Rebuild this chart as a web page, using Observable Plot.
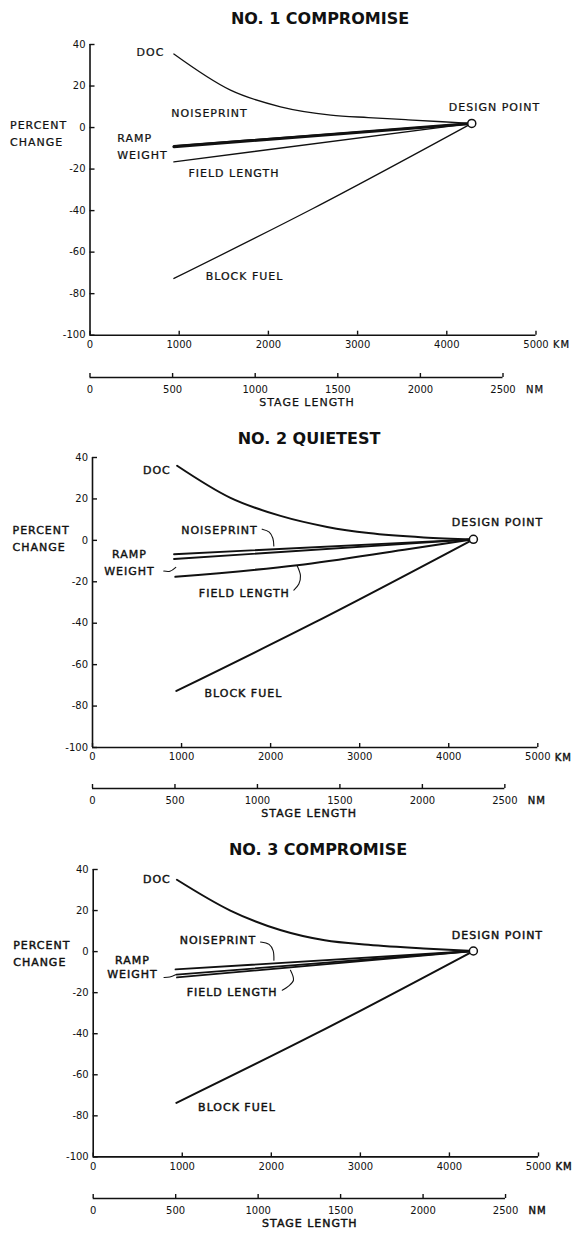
<!DOCTYPE html>
<html>
<head>
<meta charset="utf-8">
<script src="https://cdn.jsdelivr.net/npm/d3@7"></script>
<script src="https://cdn.jsdelivr.net/npm/@observablehq/plot@0.6"></script>
<style>
  body { margin: 0; background: #fff; }
  #root { position: relative; width: 577px; height: 1238px; font-family: "DejaVu Sans", sans-serif; color: #111; }
  .title { position: absolute; text-align: center; font-weight: bold; font-size: 16px; line-height: 20px; white-space: nowrap; color: #111; }
  .lbl g[aria-label="text"] text { letter-spacing: 1px; }
</style>
</head>
<body>
<div id="root"></div>
<script>
// ---------- data ----------
const panelTitles = ["NO. 1 COMPROMISE", "NO. 2 QUIETEST", "NO. 3 COMPROMISE"];
const kmTicks = [0, 1000, 2000, 3000, 4000, 5000];
const kmTickLabels = ["0", "1000", "2000", "3000", "4000", "5000"];
const nmTicks = [0, 500, 1000, 1500, 2000, 2500];
const nmTickLabels = ["0", "500", "1000", "1500", "2000", "2500"];
const pctTicks = [-100, -80, -60, -40, -20, 0, 20, 40];
const pctTickLabels = ["-100", "-80", "-60", "-40", "-20", "0", "20", "40"];
const kmUnit = "KM";
const nmUnit = "NM";
const xTitle = "STAGE LENGTH";
const yTitle = "PERCENT\nCHANGE";
const kmPerNm = 1.852;

// Panel 1 series: [stage length km, percent change]
const p1Doc = [[940, 35.4], [1575, 18], [2136, 10], [2700, 6], [3120, 4.8], [3540, 3.8], [3950, 2.8], [4280, 2]];
const p1Noise = [[940, -8.7], [4280, 2]];
const p1Ramp = [[940, -9.2], [4280, 2]];
const p1Field = [[940, -16.5], [4280, 2]];
const p1Fuel = [[940, -72.7], [2500, -39], [4280, 2]];
// Panel 2 series
const p2Doc = [[950, 36], [1549, 20.5], [2111, 11.8], [2635, 6.5], [3100, 3.5], [3720, 1.4], [4277, 0.5]];
const p2Noise = [[915, -6.7], [4277, 0.5]];
const p2Ramp = [[915, -9], [4277, 0.5]];
const p2Field = [[930, -17.6], [2300, -12], [3500, -4.5], [4277, 0.5]];
const p2Fuel = [[942, -72.7], [2500, -39.5], [4277, 0.5]];
// Panel 3 series
const p3Doc = [[940, 35], [1540, 20], [2100, 10.5], [2600, 5.5], [3090, 3.3], [3710, 1.5], [4269, 0.3]];
const p3Noise = [[924, -8.7], [4269, 0.3]];
const p3Ramp = [[935, -11.2], [4269, 0.3]];
const p3Field = [[940, -12.6], [4269, 0.3]];
const p3Fuel = [[934, -73.7], [2500, -40], [4269, 0.3]];

// Design points [km, %]
const designPoints = [[4280, 2], [4277, 0.5], [4269, 0.3]];

// Annotation labels (anchored in data units)
const p1Labels = [
  {t: "DOC", km: 678, pct: 37.2}, {t: "NOISEPRINT", km: 1340, pct: 7.5},
  {t: "FIELD LENGTH", km: 1614, pct: -21.4}, {t: "BLOCK FUEL", km: 1732, pct: -70.8},
  {t: "DESIGN POINT", km: 4535, pct: 10.3}
];
const p1StartLabels = [{t: "RAMP\nWEIGHT", km: 305, pct: -8.5}];
const p2Labels = [
  {t: "DOC", km: 723, pct: 34.7}, {t: "NOISEPRINT", km: 1426, pct: 5.9},
  {t: "RAMP\nWEIGHT", km: 415, pct: -10.1},
  {t: "FIELD LENGTH", km: 1705, pct: -24.7}, {t: "BLOCK FUEL", km: 1694, pct: -73.2},
  {t: "DESIGN POINT", km: 4547, pct: 9.4}
];
const p3Labels = [
  {t: "DOC", km: 715, pct: 35.6}, {t: "NOISEPRINT", km: 1401, pct: 6.0},
  {t: "RAMP\nWEIGHT", km: 440, pct: -7.3},
  {t: "FIELD LENGTH", km: 1560, pct: -19.3}, {t: "BLOCK FUEL", km: 1614, pct: -75.3},
  {t: "DESIGN POINT", km: 4539, pct: 8.5}
];
const yTitlePct = [-2, 1.8, 0];

// Leader lines [km, %]
const p2Leaders = [
  [[1905, 5.4], [1985, 4.0], [2025, 1.0], [2036, -2.7]],
  [[800, -14.8], [870, -14.9], [935, -13]],
  [[2298, -12.3], [2335, -17.1], [2317, -21.1], [2261, -24]]
];
const p3Leaders = [
  [[1879, 4.7], [1975, 3.5], [2020, 0.5], [2029, -4.2]],
  [[795, -12.6], [860, -12.4], [925, -11.3]],
  [[2215, -9.1], [2249, -13.9], [2193, -16.8], [2123, -18.8]]
];

// ---------- layout ----------
const panels = [
  {title: panelTitles[0], series: [p1Doc, p1Noise, p1Ramp, p1Field, p1Fuel], widths: [1.3, 1.3, 3, 1.3, 1.3],
   labels: p1Labels, startLabels: p1StartLabels, leaders: [], dp: designPoints[0], ylab: yTitlePct[0], lh: 1.5, heavy: 0.25,
   x0: 89.5, x5: 535.5, y40: 44.3, yB: 335, tcx: 320, tcy: 19.3, nmY: 376.7},
  {title: panelTitles[1], series: [p2Doc, p2Noise, p2Ramp, p2Field, p2Fuel], widths: [2, 1.8, 1.8, 2, 2],
   labels: p2Labels, startLabels: [], leaders: p2Leaders, dp: designPoints[1], ylab: yTitlePct[1], lh: 1.55, heavy: 0.4,
   x0: 92, x5: 537.3, y40: 456.7, yB: 746.7, tcx: 309, tcy: 439, nmY: 788.3},
  {title: panelTitles[2], series: [p3Doc, p3Noise, p3Ramp, p3Field, p3Fuel], widths: [2, 1.8, 1.8, 1.8, 2],
   labels: p3Labels, startLabels: [], leaders: p3Leaders, dp: designPoints[2], ylab: yTitlePct[2], lh: 1.3, heavy: 0.45,
   x0: 92.7, x5: 538, y40: 869.3, yB: 1156.7, tcx: 318, tcy: 849.7, nmY: 1198.3}
];

const root = document.getElementById("root");
function place(el, top) {
  const wrap = document.createElement("div");
  wrap.className = "lbl";
  wrap.style.position = "absolute";
  wrap.style.left = "0px";
  wrap.style.top = top + "px";
  wrap.appendChild(el);
  root.appendChild(wrap);
}
const lab = (arr, labels) => d => labels[arr.indexOf(d)];

panels.forEach(c => {
  const t = document.createElement("div");
  t.className = "title";
  t.textContent = c.title;
  t.style.left = (c.tcx - 150) + "px";
  t.style.width = "300px";
  t.style.top = (c.tcy - 10) + "px";
  root.appendChild(t);

  const heavy = {stroke: "#111", strokeWidth: c.heavy, fill: "#111"};
  const mt = 10, mb = 26;
  const frameH = c.yB - c.y40;
  const lineMarks = c.series.map((s, i) =>
    Plot.line(s, {x: d => d[0], y: d => d[1], curve: "monotone-x", stroke: "#111", strokeWidth: c.widths[i]}));
  const leaderMarks = c.leaders.map(s =>
    Plot.line(s, {x: d => d[0], y: d => d[1], curve: "catmull-rom", stroke: "#111", strokeWidth: 1.1}));

  const main = Plot.plot({
    width: 577, height: mt + frameH + mb,
    marginLeft: c.x0, marginRight: 577 - c.x5, marginTop: mt, marginBottom: mb,
    style: {fontFamily: "DejaVu Sans, sans-serif", fontSize: "10px", color: "#111", background: "transparent", overflow: "visible"},
    x: {domain: [kmTicks[0], kmTicks[kmTicks.length - 1]], label: null},
    y: {domain: [pctTicks[0], pctTicks[pctTicks.length - 1]], label: null},
    marks: [
      Plot.ruleX([kmTicks[0]], {stroke: "#111", strokeWidth: 1.6}),
      Plot.ruleY([pctTicks[0]], {stroke: "#111", strokeWidth: 1.6}),
      Plot.axisX({ticks: kmTicks, tickFormat: lab(kmTicks, kmTickLabels), tickSize: -4, tickPadding: 9.5, label: null, strokeWidth: 1.4}),
      Plot.axisY({ticks: pctTicks, tickFormat: lab(pctTicks, pctTickLabels), tickSize: -5, tickPadding: 9.5, label: null, strokeWidth: 1.4}),
      Plot.text([{u: kmUnit, v: kmTicks[kmTicks.length - 1]}], {x: "v", text: "u", frameAnchor: "bottom", dx: 17, dy: 13, textAnchor: "start", fontSize: 10, ...heavy}),
      Plot.text([{t: yTitle, pct: c.ylab}], {y: "pct", text: "t", frameAnchor: "left", dx: -80, textAnchor: "start", lineHeight: 1.55, fontSize: 11, ...heavy}),
      ...lineMarks,
      ...leaderMarks,
      Plot.text(c.labels, {x: "km", y: "pct", text: "t", textAnchor: "middle", fontSize: 11, lineHeight: c.lh, ...heavy}),
      Plot.text(c.startLabels, {x: "km", y: "pct", text: "t", textAnchor: "start", fontSize: 11, lineHeight: c.lh, ...heavy}),
      Plot.dot([c.dp], {x: d => d[0], y: d => d[1], r: 4, fill: "white", stroke: "#111", strokeWidth: 1.5})
    ]
  });
  place(main, c.y40 - mt);

  const nmTop = 5, nmBottom = 37;
  const nm = Plot.plot({
    width: 577, height: nmTop + 2 + nmBottom,
    marginLeft: c.x0, marginRight: 577 - c.x5, marginTop: nmTop, marginBottom: nmBottom,
    style: {fontFamily: "DejaVu Sans, sans-serif", fontSize: "10px", color: "#111", background: "transparent", overflow: "visible"},
    x: {domain: [0, kmTicks[kmTicks.length - 1] / kmPerNm], label: null},
    y: {domain: [0, 1], axis: null},
    marks: [
      Plot.ruleY([0], {x1: nmTicks[0], x2: nmTicks[nmTicks.length - 1], stroke: "#111", strokeWidth: 1.6}),
      Plot.axisX({ticks: nmTicks, tickFormat: lab(nmTicks, nmTickLabels), tickSize: -4, tickPadding: 12, label: null, strokeWidth: 1.4}),
      Plot.text([{u: nmUnit, v: nmTicks[nmTicks.length - 1]}], {x: "v", text: "u", frameAnchor: "bottom", dx: 23, dy: 15.5, textAnchor: "start", fontSize: 10, ...heavy}),
      Plot.text([xTitle], {frameAnchor: "bottom", dx: -6, dy: 28.5, fontSize: 11, ...heavy})
    ]
  });
  place(nm, c.nmY - (nmTop + 2));
});
</script>
</body>
</html>
